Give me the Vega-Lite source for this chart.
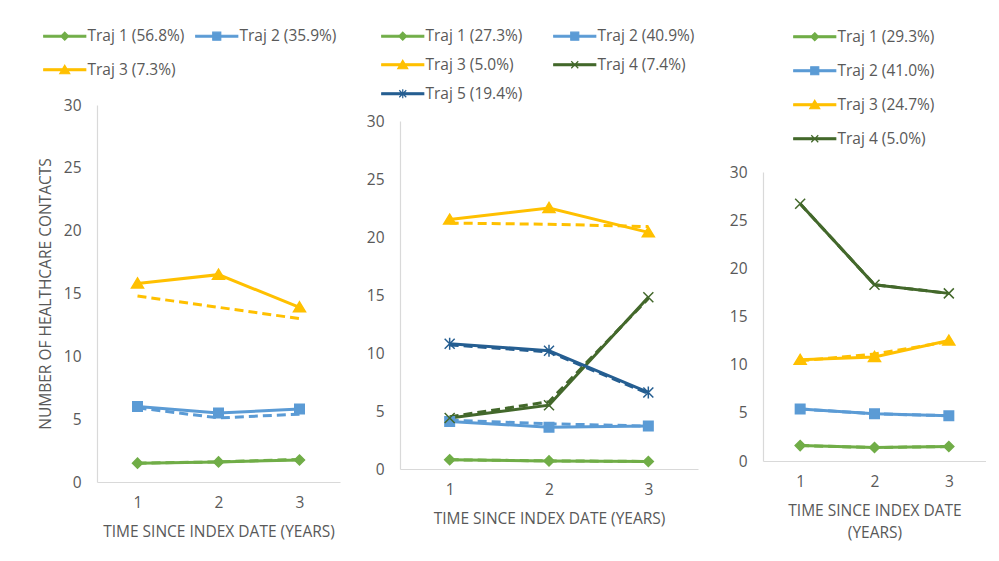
{
  "$schema": "https://vega.github.io/schema/vega-lite/v6.json",
  "background": "white",
  "padding": {"left": 38, "top": 28, "right": 0, "bottom": 0},
  "spacing": 26,
  "config": {
    "view": {"stroke": null},
    "font": "Open Sans",
    "axis": {"domainColor": "#d9d9d9", "domainWidth": 1.2, "ticks": false, "tickSize": 0, "grid": false, "labelColor": "#595959", "labelFontSize": 15.5, "labelFont": "Open Sans", "titleColor": "#595959", "titleFont": "Open Sans", "titleFontSize": 15.5, "titleFontWeight": "normal", "titleLineHeight": 22},
    "legend": {"labelFont": "Open Sans", "labelFontSize": 15.5, "labelColor": "#595959", "symbolSize": 100, "labelLimit": 300}
  },
  "resolve": {"scale": {"color": "independent", "shape": "independent", "stroke": "independent", "x": "independent", "y": "independent"}},
  "hconcat": [
    {
      "width": 243, "height": 377,
      "data": {"values": [
        {"traj": "Traj 1 (56.8%)", "year": 1, "kind": "Observed", "value": 1.5},
        {"traj": "Traj 1 (56.8%)", "year": 2, "kind": "Observed", "value": 1.6},
        {"traj": "Traj 1 (56.8%)", "year": 3, "kind": "Observed", "value": 1.75},
        {"traj": "Traj 1 (56.8%)", "year": 1, "kind": "Predicted", "value": 1.5},
        {"traj": "Traj 1 (56.8%)", "year": 2, "kind": "Predicted", "value": 1.6},
        {"traj": "Traj 1 (56.8%)", "year": 3, "kind": "Predicted", "value": 1.8},
        {"traj": "Traj 2 (35.9%)", "year": 1, "kind": "Observed", "value": 6.0},
        {"traj": "Traj 2 (35.9%)", "year": 2, "kind": "Observed", "value": 5.5},
        {"traj": "Traj 2 (35.9%)", "year": 3, "kind": "Observed", "value": 5.8},
        {"traj": "Traj 2 (35.9%)", "year": 1, "kind": "Predicted", "value": 5.9},
        {"traj": "Traj 2 (35.9%)", "year": 2, "kind": "Predicted", "value": 5.1},
        {"traj": "Traj 2 (35.9%)", "year": 3, "kind": "Predicted", "value": 5.4},
        {"traj": "Traj 3 (7.3%)", "year": 1, "kind": "Observed", "value": 15.8},
        {"traj": "Traj 3 (7.3%)", "year": 2, "kind": "Observed", "value": 16.5},
        {"traj": "Traj 3 (7.3%)", "year": 3, "kind": "Observed", "value": 13.9},
        {"traj": "Traj 3 (7.3%)", "year": 1, "kind": "Predicted", "value": 14.8},
        {"traj": "Traj 3 (7.3%)", "year": 2, "kind": "Predicted", "value": 13.9},
        {"traj": "Traj 3 (7.3%)", "year": 3, "kind": "Predicted", "value": 13.0}
      ]},
      "encoding": {
        "x": {"field": "year", "type": "ordinal", "scale": {"type": "point", "padding": 0.5}, "axis": {"labelAngle": 0, "labelPadding": 13, "title": "TIME SINCE INDEX DATE (YEARS)", "titlePadding": 14}},
        "y": {"field": "value", "type": "quantitative", "scale": {"domain": [0, 30]}, "axis": {"values": [0, 5, 10, 15, 20, 25, 30], "title": "NUMBER OF HEALTHCARE CONTACTS", "labelPadding": 16, "titlePadding": 10}},
        "color": {"field": "traj", "type": "nominal", "scale": {"domain": ["Traj 1 (56.8%)", "Traj 2 (35.9%)", "Traj 3 (7.3%)"], "range": ["#70AD47", "#5B9BD5", "#FFC000"]},
          "legend": {"orient": "none", "legendX": -40, "legendY": -77, "direction": "horizontal", "columns": 2, "columnPadding": 8, "rowPadding": 17, "labelOffset": 15, "title": null,
            "encode": {"symbols": {"update": {
              "shape": {"signal": "['M-4.2,-0.18H4.2V0.18H-4.2ZM0,-0.8L0.8,0L0,0.8L-0.8,0Z','M-4.2,-0.18H4.2V0.18H-4.2ZM-0.8,-0.8H0.8V0.8H-0.8Z','M-4.2,-0.18H4.2V0.18H-4.2ZM0,-0.9L1,0.8H-1Z'][datum.index]"},
              "stroke": {"signal": "['#70AD47','#5B9BD5','#FFC000'][datum.index]"},
              "strokeWidth": {"value": 1.2}, "opacity": {"value": 1}}}}}}
      },
      "layer": [
        {"transform": [{"filter": "datum.kind == 'Predicted'"}], "mark": {"type": "line", "strokeWidth": 3, "strokeDash": [9, 5]}},
        {"transform": [{"filter": "datum.kind == 'Observed'"}], "mark": {"type": "line", "strokeWidth": 3}},
        {"transform": [{"filter": "datum.kind == 'Observed'"}], "mark": {"type": "point", "filled": true, "opacity": 1, "size": 100, "strokeWidth": 1.5},
         "encoding": {
           "stroke": {"field": "traj", "type": "nominal", "scale": {"domain": ["Traj 3 (7.3%)", "Traj 2 (35.9%)", "Traj 1 (56.8%)"], "range": ["#FFC000", "#5B9BD5", "#70AD47"]}, "legend": null},
           "shape": {"field": "traj", "type": "nominal", "scale": {"domain": ["Traj 3 (7.3%)", "Traj 2 (35.9%)", "Traj 1 (56.8%)"], "range": ["M0,-1.1L1.2,0.9H-1.2Z", "M-0.95,-0.95H0.95V0.95H-0.95Z", "M0,-1L1,0L0,1L-1,0Z"]}, "legend": null}
         }}
      ]
    },
    {
      "width": 298, "height": 364,
      "data": {"values": [
        {"traj": "Traj 1 (27.3%)", "year": 1, "kind": "Observed", "value": 0.8},
        {"traj": "Traj 1 (27.3%)", "year": 2, "kind": "Observed", "value": 0.7},
        {"traj": "Traj 1 (27.3%)", "year": 3, "kind": "Observed", "value": 0.65},
        {"traj": "Traj 1 (27.3%)", "year": 1, "kind": "Predicted", "value": 0.8},
        {"traj": "Traj 1 (27.3%)", "year": 2, "kind": "Predicted", "value": 0.7},
        {"traj": "Traj 1 (27.3%)", "year": 3, "kind": "Predicted", "value": 0.65},
        {"traj": "Traj 2 (40.9%)", "year": 1, "kind": "Observed", "value": 4.1},
        {"traj": "Traj 2 (40.9%)", "year": 2, "kind": "Observed", "value": 3.6},
        {"traj": "Traj 2 (40.9%)", "year": 3, "kind": "Observed", "value": 3.7},
        {"traj": "Traj 2 (40.9%)", "year": 1, "kind": "Predicted", "value": 4.2},
        {"traj": "Traj 2 (40.9%)", "year": 2, "kind": "Predicted", "value": 3.9},
        {"traj": "Traj 2 (40.9%)", "year": 3, "kind": "Predicted", "value": 3.7},
        {"traj": "Traj 3 (5.0%)", "year": 1, "kind": "Observed", "value": 21.5},
        {"traj": "Traj 3 (5.0%)", "year": 2, "kind": "Observed", "value": 22.5},
        {"traj": "Traj 3 (5.0%)", "year": 3, "kind": "Observed", "value": 20.4},
        {"traj": "Traj 3 (5.0%)", "year": 1, "kind": "Predicted", "value": 21.2},
        {"traj": "Traj 3 (5.0%)", "year": 2, "kind": "Predicted", "value": 21.1},
        {"traj": "Traj 3 (5.0%)", "year": 3, "kind": "Predicted", "value": 20.9},
        {"traj": "Traj 4 (7.4%)", "year": 1, "kind": "Observed", "value": 4.4},
        {"traj": "Traj 4 (7.4%)", "year": 2, "kind": "Observed", "value": 5.5},
        {"traj": "Traj 4 (7.4%)", "year": 3, "kind": "Observed", "value": 14.8},
        {"traj": "Traj 4 (7.4%)", "year": 1, "kind": "Predicted", "value": 4.5},
        {"traj": "Traj 4 (7.4%)", "year": 2, "kind": "Predicted", "value": 5.8},
        {"traj": "Traj 4 (7.4%)", "year": 3, "kind": "Predicted", "value": 14.7},
        {"traj": "Traj 5 (19.4%)", "year": 1, "kind": "Observed", "value": 10.8},
        {"traj": "Traj 5 (19.4%)", "year": 2, "kind": "Observed", "value": 10.2},
        {"traj": "Traj 5 (19.4%)", "year": 3, "kind": "Observed", "value": 6.6},
        {"traj": "Traj 5 (19.4%)", "year": 1, "kind": "Predicted", "value": 10.7},
        {"traj": "Traj 5 (19.4%)", "year": 2, "kind": "Predicted", "value": 10.1},
        {"traj": "Traj 5 (19.4%)", "year": 3, "kind": "Predicted", "value": 6.5}
      ]},
      "encoding": {
        "x": {"field": "year", "type": "ordinal", "scale": {"type": "point", "padding": 0.5}, "axis": {"labelAngle": 0, "labelPadding": 13, "title": "TIME SINCE INDEX DATE (YEARS)", "titlePadding": 14}},
        "y": {"field": "value", "type": "quantitative", "scale": {"domain": [0, 30], "range": [364, 16]}, "axis": {"values": [0, 5, 10, 15, 20, 25, 30], "title": null, "labelPadding": 16}},
        "color": {"field": "traj", "type": "nominal", "scale": {"domain": ["Traj 1 (27.3%)", "Traj 2 (40.9%)", "Traj 3 (5.0%)", "Traj 4 (7.4%)", "Traj 5 (19.4%)"], "range": ["#70AD47", "#5B9BD5", "#FFC000", "#43682B", "#255E91"]},
          "legend": {"orient": "none", "legendX": -5, "legendY": -77, "direction": "horizontal", "columns": 2, "columnPadding": 28, "rowPadding": 12, "labelOffset": 15, "title": null,
            "encode": {"symbols": {"update": {
              "shape": {"signal": "['M-4.2,-0.18H4.2V0.18H-4.2ZM0,-0.8L0.8,0L0,0.8L-0.8,0Z','M-4.2,-0.18H4.2V0.18H-4.2ZM-0.8,-0.8H0.8V0.8H-0.8Z','M-4.2,-0.18H4.2V0.18H-4.2ZM0,-0.9L1,0.8H-1Z','M-4.2,-0.18H4.2V0.18H-4.2ZM-0.7,-0.7L0.7,0.7M-0.7,0.7L0.7,-0.7','M-4.2,-0.18H4.2V0.18H-4.2ZM-0.7,-0.7L0.7,0.7M-0.7,0.7L0.7,-0.7M0,-0.9V0.9'][datum.index]"},
              "stroke": {"signal": "['#70AD47','#5B9BD5','#FFC000','#43682B','#255E91'][datum.index]"},
              "strokeWidth": {"value": 1.2}, "opacity": {"value": 1}}}}}}
      },
      "layer": [
        {"transform": [{"filter": "datum.kind == 'Predicted'"}], "mark": {"type": "line", "strokeWidth": 3, "strokeDash": [9, 5]}},
        {"transform": [{"filter": "datum.kind == 'Observed'"}], "mark": {"type": "line", "strokeWidth": 3}},
        {"transform": [{"filter": "datum.kind == 'Observed'"}], "mark": {"type": "point", "filled": true, "opacity": 1, "size": 100, "strokeWidth": 1.5},
         "encoding": {
           "stroke": {"field": "traj", "type": "nominal", "scale": {"domain": ["Traj 5 (19.4%)", "Traj 4 (7.4%)", "Traj 3 (5.0%)", "Traj 2 (40.9%)", "Traj 1 (27.3%)"], "range": ["#255E91", "#43682B", "#FFC000", "#5B9BD5", "#70AD47"]}, "legend": null},
           "shape": {"field": "traj", "type": "nominal", "scale": {"domain": ["Traj 5 (19.4%)", "Traj 4 (7.4%)", "Traj 3 (5.0%)", "Traj 2 (40.9%)", "Traj 1 (27.3%)"], "range": ["M-1,-1L1,1M-1,1L1,-1M0,-1.2V1.2", "M-1,-1L1,1M-1,1L1,-1", "M0,-1.1L1.2,0.9H-1.2Z", "M-0.95,-0.95H0.95V0.95H-0.95Z", "M0,-1L1,0L0,1L-1,0Z"]}, "legend": null}
         }}
      ]
    },
    {
      "width": 223, "height": 356,
      "data": {"values": [
        {"traj": "Traj 1 (29.3%)", "year": 1, "kind": "Observed", "value": 1.6},
        {"traj": "Traj 1 (29.3%)", "year": 2, "kind": "Observed", "value": 1.4},
        {"traj": "Traj 1 (29.3%)", "year": 3, "kind": "Observed", "value": 1.5},
        {"traj": "Traj 1 (29.3%)", "year": 1, "kind": "Predicted", "value": 1.6},
        {"traj": "Traj 1 (29.3%)", "year": 2, "kind": "Predicted", "value": 1.4},
        {"traj": "Traj 1 (29.3%)", "year": 3, "kind": "Predicted", "value": 1.5},
        {"traj": "Traj 2 (41.0%)", "year": 1, "kind": "Observed", "value": 5.4},
        {"traj": "Traj 2 (41.0%)", "year": 2, "kind": "Observed", "value": 4.9},
        {"traj": "Traj 2 (41.0%)", "year": 3, "kind": "Observed", "value": 4.7},
        {"traj": "Traj 2 (41.0%)", "year": 1, "kind": "Predicted", "value": 5.4},
        {"traj": "Traj 2 (41.0%)", "year": 2, "kind": "Predicted", "value": 4.9},
        {"traj": "Traj 2 (41.0%)", "year": 3, "kind": "Predicted", "value": 4.7},
        {"traj": "Traj 3 (24.7%)", "year": 1, "kind": "Observed", "value": 10.5},
        {"traj": "Traj 3 (24.7%)", "year": 2, "kind": "Observed", "value": 10.8},
        {"traj": "Traj 3 (24.7%)", "year": 3, "kind": "Observed", "value": 12.5},
        {"traj": "Traj 3 (24.7%)", "year": 1, "kind": "Predicted", "value": 10.4},
        {"traj": "Traj 3 (24.7%)", "year": 2, "kind": "Predicted", "value": 11.1},
        {"traj": "Traj 3 (24.7%)", "year": 3, "kind": "Predicted", "value": 12.4},
        {"traj": "Traj 4 (5.0%)", "year": 1, "kind": "Observed", "value": 26.7},
        {"traj": "Traj 4 (5.0%)", "year": 2, "kind": "Observed", "value": 18.3},
        {"traj": "Traj 4 (5.0%)", "year": 3, "kind": "Observed", "value": 17.4},
        {"traj": "Traj 4 (5.0%)", "year": 1, "kind": "Predicted", "value": 26.7},
        {"traj": "Traj 4 (5.0%)", "year": 2, "kind": "Predicted", "value": 18.3},
        {"traj": "Traj 4 (5.0%)", "year": 3, "kind": "Predicted", "value": 17.4}
      ]},
      "encoding": {
        "x": {"field": "year", "type": "ordinal", "scale": {"type": "point", "padding": 0.5}, "axis": {"labelAngle": 0, "labelPadding": 13, "title": ["TIME SINCE INDEX DATE", "(YEARS)"], "titlePadding": 14}},
        "y": {"field": "value", "type": "quantitative", "scale": {"domain": [0, 30], "range": [356, 67]}, "axis": {"values": [0, 5, 10, 15, 20, 25, 30], "title": " ", "titleFontSize": 1, "titlePadding": 4, "labelPadding": 16}},
        "color": {"field": "traj", "type": "nominal", "scale": {"domain": ["Traj 1 (29.3%)", "Traj 2 (41.0%)", "Traj 3 (24.7%)", "Traj 4 (5.0%)"], "range": ["#70AD47", "#5B9BD5", "#FFC000", "#43682B"]},
          "legend": {"orient": "none", "legendX": 44, "legendY": -76, "direction": "vertical", "columns": 1, "rowPadding": 17, "labelOffset": 15, "title": null,
            "encode": {"symbols": {"update": {
              "shape": {"signal": "['M-4.2,-0.18H4.2V0.18H-4.2ZM0,-0.8L0.8,0L0,0.8L-0.8,0Z','M-4.2,-0.18H4.2V0.18H-4.2ZM-0.8,-0.8H0.8V0.8H-0.8Z','M-4.2,-0.18H4.2V0.18H-4.2ZM0,-0.9L1,0.8H-1Z','M-4.2,-0.18H4.2V0.18H-4.2ZM-0.7,-0.7L0.7,0.7M-0.7,0.7L0.7,-0.7'][datum.index]"},
              "stroke": {"signal": "['#70AD47','#5B9BD5','#FFC000','#43682B'][datum.index]"},
              "strokeWidth": {"value": 1.2}, "opacity": {"value": 1}}}}}}
      },
      "layer": [
        {"transform": [{"filter": "datum.kind == 'Predicted'"}], "mark": {"type": "line", "strokeWidth": 3, "strokeDash": [9, 5]}},
        {"transform": [{"filter": "datum.kind == 'Observed'"}], "mark": {"type": "line", "strokeWidth": 3}},
        {"transform": [{"filter": "datum.kind == 'Observed'"}], "mark": {"type": "point", "filled": true, "opacity": 1, "size": 100, "strokeWidth": 1.5},
         "encoding": {
           "stroke": {"field": "traj", "type": "nominal", "scale": {"domain": ["Traj 4 (5.0%)", "Traj 3 (24.7%)", "Traj 2 (41.0%)", "Traj 1 (29.3%)"], "range": ["#43682B", "#FFC000", "#5B9BD5", "#70AD47"]}, "legend": null},
           "shape": {"field": "traj", "type": "nominal", "scale": {"domain": ["Traj 4 (5.0%)", "Traj 3 (24.7%)", "Traj 2 (41.0%)", "Traj 1 (29.3%)"], "range": ["M-1,-1L1,1M-1,1L1,-1", "M0,-1.1L1.2,0.9H-1.2Z", "M-0.95,-0.95H0.95V0.95H-0.95Z", "M0,-1L1,0L0,1L-1,0Z"]}, "legend": null}
         }}
      ]
    }
  ]
}
